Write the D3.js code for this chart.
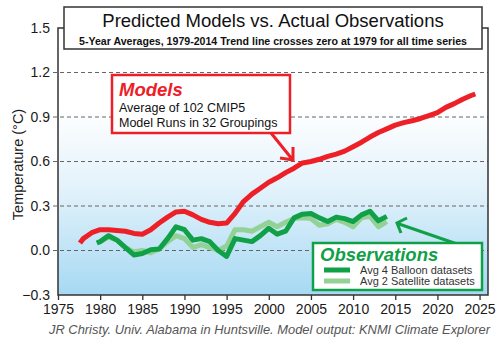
<!DOCTYPE html>
<html>
<head>
<meta charset="utf-8">
<style>
    body { margin: 0; background: #fff; }
    svg { display: block; font-family: "Helvetica Neue", Helvetica, Arial, "Liberation Sans", sans-serif; }
    .x .tick text, .y .tick text { font-size: 14px; fill: #1a1a1a; }
    .x .domain, .y .domain { display: none; }
    .x .tick line { stroke: #333; stroke-width: 1.3; }
    .grid line { stroke: #666; stroke-width: 1; stroke-dasharray: 4 3; }
</style>
</head>
<body>
<svg width="500" height="342"></svg>

<script src="https://d3js.org/d3.v7.min.js"></script>
<script>
    // 5-year averages
    let modelYears = [1977.6, 1978, 1979, 1980, 1981, 1982, 1983, 1984, 1985, 1986, 1987, 1988, 1989, 1990,
        1991, 1992, 1993, 1994, 1995, 1996, 1997, 1998, 1999, 2000, 2001, 2002, 2003, 2004, 2005,
        2006, 2007, 2008, 2009, 2010, 2011, 2012, 2013, 2014, 2015, 2016, 2017, 2018, 2019, 2020,
        2021, 2022, 2023, 2024, 2024.5]
    let modelValues = [0.05, 0.08, 0.12, 0.14, 0.14, 0.135, 0.13, 0.115, 0.11, 0.14, 0.185, 0.225, 0.26, 0.265,
        0.24, 0.21, 0.19, 0.18, 0.185, 0.25, 0.33, 0.38, 0.42, 0.46, 0.49, 0.525, 0.555, 0.59, 0.60,
        0.615, 0.635, 0.65, 0.67, 0.70, 0.73, 0.765, 0.795, 0.82, 0.845, 0.862, 0.875, 0.89, 0.91, 0.93,
        0.965, 0.99, 1.02, 1.045, 1.055]

    let obsYears = [1979.6, 1980, 1981, 1982, 1983, 1984, 1985, 1986, 1987, 1988, 1989, 1990, 1991, 1992,
        1993, 1994, 1995, 1996, 1997, 1998, 1999, 2000, 2001, 2002, 2003, 2004, 2005, 2006, 2007,
        2008, 2009, 2010, 2011, 2012, 2013, 2014]
    let balloonValues = [0.05, 0.06, 0.10, 0.07, 0.02, -0.03, -0.02, 0.005, 0.01, 0.08, 0.16, 0.14, 0.07, 0.08,
        0.06, 0.0, -0.04, 0.08, 0.07, 0.06, 0.10, 0.15, 0.11, 0.13, 0.22, 0.245, 0.25, 0.22, 0.195,
        0.225, 0.215, 0.195, 0.24, 0.265, 0.20, 0.23]
    let satelliteValues = [null, 0.06, 0.09, 0.07, 0.02, -0.01, 0.0, -0.015, 0.01, 0.06, 0.10, 0.08, 0.02, 0.04,
        0.02, 0.0, 0.03, 0.14, 0.14, 0.13, 0.16, 0.19, 0.16, 0.19, 0.215, 0.22, 0.215, 0.17, 0.18,
        0.21, 0.19, 0.16, 0.22, 0.23, 0.16, 0.195]

    let xTicks = [1975, 1980, 1985, 1990, 1995, 2000, 2005, 2010, 2015, 2020, 2025]
    let yTicks = [-0.3, 0.0, 0.3, 0.6, 0.9, 1.2, 1.5]
    let gridTicks = [0.0, 0.3, 0.6, 0.9, 1.2]

    let red = "#ee2027"
    let darkGreen = "#10a048"
    let lightGreen = "#94d196"

    let margin = { top: 28, right: 12, bottom: 47, left: 58 }
    let width = 500
    let height = 342

    let svg = d3.select("svg")

    let x = d3.scaleLinear()
        .domain([1975, 2026])
        .range([margin.left, width - margin.right])

    let y = d3.scaleLinear()
        .domain([-0.3, 1.5])
        .range([height - margin.bottom, margin.top])

    // background gradient
    let defs = svg.append("defs")
    let grad = defs.append("linearGradient")
        .attr("id", "bg")
        .attr("x1", 0).attr("y1", 0).attr("x2", 0).attr("y2", 1)
    grad.append("stop").attr("offset", "0%").attr("stop-color", "#ffffff")
    grad.append("stop").attr("offset", "30%").attr("stop-color", "#ffffff")
    grad.append("stop").attr("offset", "60%").attr("stop-color", "#e3f2fb")
    grad.append("stop").attr("offset", "100%").attr("stop-color", "#a6d9f3")

    svg.append("rect")
        .attr("x", x(1975))
        .attr("y", y(1.5))
        .attr("width", x(2026) - x(1975))
        .attr("height", y(-0.3) - y(1.5))
        .attr("fill", "url(#bg)")

    // dashed grid
    svg.append("g")
        .attr("class", "grid")
        .selectAll("line")
        .data(gridTicks)
        .join("line")
        .attr("x1", x(1975) - 5)
        .attr("x2", x(2026))
        .attr("y1", d => y(d))
        .attr("y2", d => y(d))

    // frame
    svg.append("rect")
        .attr("x", x(1975))
        .attr("y", y(1.5))
        .attr("width", x(2026) - x(1975))
        .attr("height", y(-0.3) - y(1.5))
        .attr("fill", "none")
        .attr("stroke", "#333")
        .attr("stroke-width", 1.5)

    svg.append("g")
        .attr("class", "x axis")
        .attr("transform", `translate(0,${y(-0.3)})`)
        .call(d3.axisBottom(x).tickValues(xTicks).tickSize(5).tickPadding(4).tickFormat(d3.format("d")))

    svg.append("g")
        .attr("class", "y axis")
        .attr("transform", `translate(${x(1975)},0)`)
        .call(d3.axisLeft(y).tickValues(yTicks).tickSize(0).tickPadding(8).tickFormat(d3.format(".1f")))

    svg.append("text")
        .attr("transform", `translate(23,${(y(1.5) + y(-0.3)) / 2 + 3}) rotate(-90)`)
        .attr("text-anchor", "middle")
        .style("font-size", "14.5px")
        .style("fill", "#1a1a1a")
        .text("Temperature (°C)")

    // lines
    let line = d3.line()
        .defined(d => d[1] !== null)
        .x(d => x(d[0]))
        .y(d => y(d[1]))

    function drawLine(years, values, color) {
        svg.append("path")
            .datum(years.map((yr, i) => [yr, values[i]]))
            .attr("fill", "none")
            .attr("stroke", color)
            .attr("stroke-width", 5)
            .attr("stroke-linejoin", "round")
            .attr("d", line)
    }

    drawLine(obsYears, satelliteValues, lightGreen)
    drawLine(obsYears, balloonValues, darkGreen)
    drawLine(modelYears, modelValues, red)

    // title box
    svg.append("rect")
        .attr("x", 64).attr("y", 7)
        .attr("width", 418).attr("height", 42)
        .attr("fill", "#fff")
        .attr("stroke", "#333")
        .attr("stroke-width", 1.5)

    svg.append("text")
        .attr("x", 273).attr("y", 27)
        .attr("text-anchor", "middle")
        .style("font-size", "18.5px")
        .style("fill", "#111")
        .text("Predicted Models vs. Actual Observations")

    svg.append("text")
        .attr("x", 273).attr("y", 45)
        .attr("text-anchor", "middle")
        .style("font-size", "10.6px")
        .style("font-weight", "bold")
        .style("fill", "#111")
        .text("5-Year Averages, 1979-2014 Trend line crosses zero at 1979 for all time series")

    // models callout
    svg.append("path")
        .attr("d", "M271,133 L292,159 M280,158 L293,160 L293,147")
        .attr("fill", "none")
        .attr("stroke", red)
        .attr("stroke-width", 3)

    svg.append("rect")
        .attr("x", 112).attr("y", 75)
        .attr("width", 178).attr("height", 58)
        .attr("fill", "#fff")
        .attr("stroke", red)
        .attr("stroke-width", 2.5)

    svg.append("text")
        .attr("x", 119).attr("y", 96)
        .style("font-size", "18.5px")
        .style("font-weight", "bold")
        .style("font-style", "italic")
        .style("fill", red)
        .text("Models")

    svg.append("text")
        .attr("x", 119).attr("y", 112)
        .style("font-size", "12.5px")
        .style("fill", "#111")
        .text("Average of 102 CMIP5")

    svg.append("text")
        .attr("x", 119).attr("y", 127)
        .style("font-size", "12.5px")
        .style("fill", "#111")
        .text("Model Runs in 32 Groupings")

    // observations callout
    svg.append("path")
        .attr("d", "M460,245 L399,224 M407,218 L397,223 L401,233")
        .attr("fill", "none")
        .attr("stroke", darkGreen)
        .attr("stroke-width", 3)

    svg.append("rect")
        .attr("x", 313).attr("y", 243)
        .attr("width", 169).attr("height", 47)
        .attr("fill", "#fff")
        .attr("stroke", darkGreen)
        .attr("stroke-width", 2.5)

    svg.append("text")
        .attr("x", 320).attr("y", 261)
        .style("font-size", "18.5px")
        .style("font-weight", "bold")
        .style("font-style", "italic")
        .style("fill", darkGreen)
        .text("Observations")

    let legend = [["Avg 4 Balloon datasets", darkGreen], ["Avg 2 Satellite datasets", lightGreen]]
    legend.forEach((d, i) => {
        svg.append("line")
            .attr("x1", 324).attr("x2", 350)
            .attr("y1", 270 + i * 11).attr("y2", 270 + i * 11)
            .attr("stroke", d[1])
            .attr("stroke-width", 5)
        svg.append("text")
            .attr("x", 360).attr("y", 274 + i * 11)
            .style("font-size", "11px")
            .style("fill", "#333")
            .text(d[0])
    })

    svg.append("text")
        .attr("x", 49).attr("y", 334)
        .style("font-size", "12.9px")
        .style("font-style", "italic")
        .style("fill", "#555")
        .text("JR Christy. Univ. Alabama in Huntsville. Model output: KNMI Climate Explorer")
</script>
</body>
</html>
